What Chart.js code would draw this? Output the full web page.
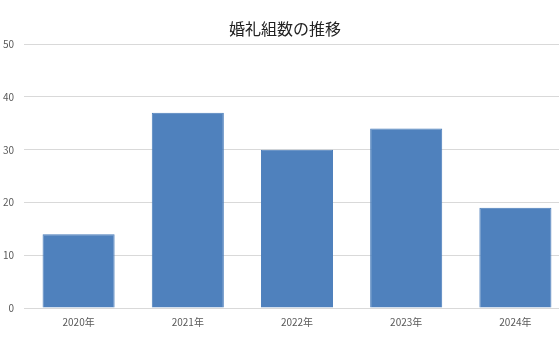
<!DOCTYPE html>
<html>
<head>
<meta charset="utf-8">
<script src="https://cdn.jsdelivr.net/npm/chart.js@4"></script>
<style>
  html, body { margin: 0; padding: 0; background: #fff; overflow: hidden; }
  #wrap { width: 570px; height: 360px; }
</style>
</head>
<body>
<div id="wrap"><canvas id="chart"></canvas></div>
<script>
// 婚礼組数の推移
const years = ['2020年', '2021年', '2022年', '2023年', '2024年'];
const counts = [14, 37, 30, 34, 19];
const yTicks = [0, 10, 20, 30, 40, 50];

const fontJP = '"Noto Sans CJK JP", "Noto Sans", sans-serif';

new Chart(document.getElementById('chart'), {
  type: 'bar',
  data: {
    labels: years,
    datasets: [{
      data: counts,
      backgroundColor: '#4F81BD',
      borderColor: '#4A7DBA',
      borderWidth: 1,
      categoryPercentage: 1,
      barPercentage: 0.66,
    }],
  },
  options: {
    responsive: true,
    maintainAspectRatio: false,
    animation: false,
    layout: { padding: { top: 11, bottom: 32, left: 0, right: 0 } },
    plugins: {
      legend: { display: false },
      tooltip: { enabled: false },
      title: {
        display: true,
        text: '婚礼組数の推移',
        color: '#222',
        font: { family: fontJP, size: 16, weight: 'normal' },
        padding: { top: 8, bottom: 6 },
      },
    },
    scales: {
      x: {
        grid: { display: false },
        border: { color: '#d9d9d9' },
        ticks: { color: '#595959', font: { family: fontJP, size: 10 }, padding: 0 },
      },
      y: {
        min: yTicks[0],
        max: yTicks[yTicks.length - 1],
        afterBuildTicks: s => { s.ticks = yTicks.map(v => ({ value: v })); },
        afterFit: s => { s.width = 24; },
        grid: { color: '#d9d9d9', drawTicks: false },
        border: { display: false },
        ticks: { color: '#595959', font: { family: fontJP, size: 10 }, padding: 10 },
      },
    },
  },
});
</script>
</body>
</html>
